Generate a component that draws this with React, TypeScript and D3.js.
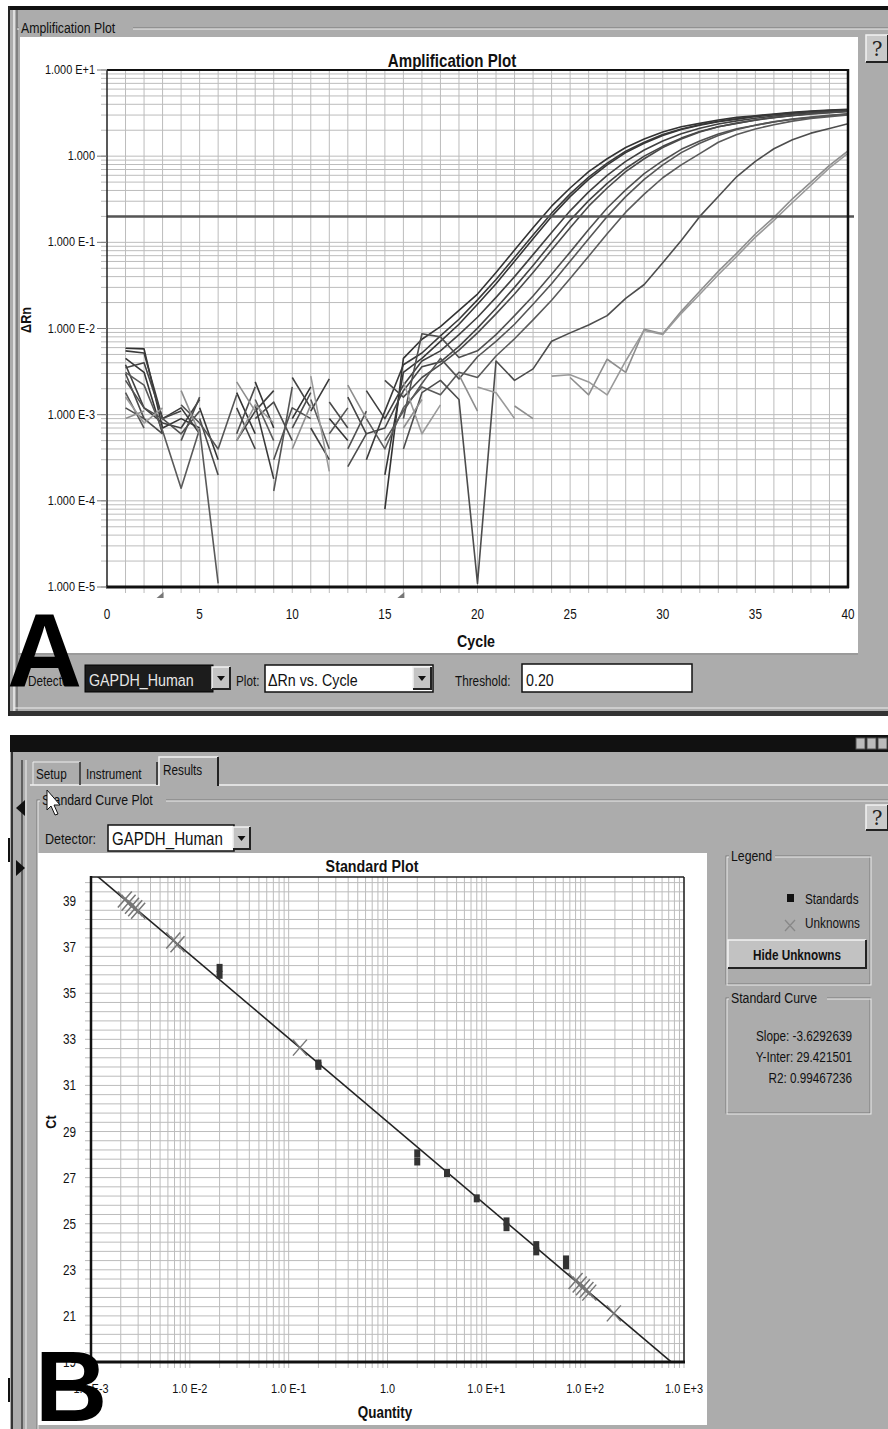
import React from "react";
import * as d3 from "d3";

// ---------- A: amplification plot, ΔRn per cycle (cycle 1..40), null = negative ΔRn (not drawn on log axis)
const cycles = d3.range(1, 41);

const curve1 = [0.0059, 0.0058, 0.0007, 0.0009, 0.0007, null, 0.0018, 0.0006, null, 0.0009, 0.0021, null, 0.0008, null, 0.00008,
  0.0045, 0.0075, 0.0105, 0.0162, 0.0251, 0.0447, 0.0813, 0.148, 0.263, 0.427, 0.661, 0.933, 1.26, 1.58, 1.91, 2.19, 2.40, 2.63, 2.82, 2.95, 3.09, 3.24, 3.35, 3.43, 3.51];
const curve2 = [0.0055, 0.0052, 0.0009, 0.0012, 0.0006, null, null, 0.0013, 0.00018, null, 0.0011, 0.0026, null, 0.0003, 0.0011,
  0.0038, 0.0052, 0.0082, 0.0128, 0.0215, 0.037, 0.067, 0.122, 0.218, 0.365, 0.57, 0.83, 1.14, 1.45, 1.78, 2.07, 2.32, 2.54, 2.72, 2.90, 3.04, 3.18, 3.30, 3.38, 3.45];
const curve3 = [0.0045, 0.0031, 0.0006, null, 0.0012, 0.0003, null, 0.0024, 0.0007, null, null, 0.0009, 0.0005, null, 0.0002,
  0.0031, 0.0045, 0.0071, 0.0112, 0.0191, 0.0331, 0.0603, 0.110, 0.200, 0.339, 0.537, 0.794, 1.10, 1.41, 1.74, 2.04, 2.29, 2.51, 2.69, 2.88, 3.02, 3.16, 3.28, 3.36, 3.42];
const curve4 = [0.0038, 0.0012, 0.0008, 0.0007, 0.0015, null, 0.0005, 0.0011, 0.0019, null, 0.0007, 0.0003, null, 0.0019, 0.0009,
  0.0022, 0.0042, 0.0055, 0.0085, 0.0135, 0.023, 0.040, 0.072, 0.130, 0.232, 0.385, 0.60, 0.87, 1.18, 1.50, 1.82, 2.11, 2.36, 2.57, 2.75, 2.92, 3.06, 3.19, 3.29, 3.37];
const curve5 = [0.0035, 0.004, 0.0009, 0.0011, null, null, 0.0012, 0.0004, null, 0.0027, 0.0012, null, 0.0016, 0.0006, 0.0007,
  0.0019, 0.0036, 0.0041, 0.0062, 0.0101, 0.0172, 0.030, 0.054, 0.099, 0.18, 0.305, 0.483, 0.72, 1.00, 1.30, 1.62, 1.93, 2.19, 2.42, 2.62, 2.80, 2.96, 3.10, 3.22, 3.31];
const curve6 = [0.003, 0.0009, 0.0006, null, 0.0009, 0.0002, null, 0.0009, 0.0014, 0.0005, null, 0.0014, 0.0007, null, 0.0025,
  0.0016, 0.0027, 0.0038, 0.0056, 0.0089, 0.0148, 0.0251, 0.0447, 0.0813, 0.148, 0.263, 0.427, 0.661, 0.933, 1.26, 1.58, 1.91, 2.19, 2.40, 2.63, 2.82, 2.95, 3.09, 3.20, 3.30];
const curve7 = [0.0025, 0.0012, 0.0009, 0.0006, 0.0011, null, 0.0008, null, 0.0003, 0.0012, 0.0009, null, 0.0004, 0.0011, null,
  0.0009, 0.0087, 0.0080, 0.0046, 0.0055, 0.0085, 0.0141, 0.0238, 0.0425, 0.077, 0.141, 0.25, 0.406, 0.628, 0.886, 1.20, 1.50, 1.81, 2.08, 2.28, 2.50, 2.68, 2.80, 2.94, 3.08];
const curve8 = [0.0018, 0.0007, null, 0.0013, 0.0008, 0.0004, 0.0017, null, 0.00013, 0.0021, null, 0.0006, 0.0012, null, 0.0005,
  0.0011, 0.0023, 0.0045, 0.0026, 0.0047, 0.00708, 0.0112, 0.0191, 0.0331, 0.0603, 0.110, 0.200, 0.339, 0.537, 0.794, 1.10, 1.41, 1.74, 2.04, 2.29, 2.51, 2.69, 2.85, 2.98, 3.10];
const curve9 = [0.0031, 0.0022, 0.00065, 0.00014, 0.00068, 0.000011, null, 0.0015, 0.0005, null, 0.0015, 0.0004, null, 0.0009, 0.0004,
  0.0012, 0.0021, 0.0017, 0.0031, 0.0027, 0.0048, 0.0076, 0.0126, 0.0213, 0.038, 0.069, 0.126, 0.224, 0.363, 0.562, 0.793, 1.07, 1.45, 1.78, 2.07, 2.32, 2.55, 2.74, 2.88, 3.0];
const curve10 = [0.0012, 0.0009, null, 0.0005, 0.0016, null, 0.0006, 0.0021, null, 0.0007, 0.0018, null, 0.00025, 0.0006, null,
  0.0004, 0.0018, 0.0025, 0.0015, 0.000011, 0.0042, 0.0025, 0.0034, 0.0071, 0.0089, 0.011, 0.0141, 0.0224, 0.0324, 0.058, 0.105, 0.20, 0.34, 0.58, 0.87, 1.22, 1.55, 1.85, 2.10, 2.38];
const curve11 = [0.0009, 0.0011, null, 0.0019, 0.0006, null, 0.0024, 0.0011, null, 0.0004, 0.0013, null, 0.0022, 0.0009, null,
  0.0007, 0.0015, null, 0.0029, 0.0011, null, 0.00126, 0.0009, null, 0.0027, 0.0017, 0.0044, 0.0031, 0.0098, 0.0087, 0.0158, 0.027, 0.046, 0.075, 0.125, 0.195, 0.32, 0.5, 0.78, 1.15];
const curve12 = [0.0016, 0.0008, 0.0012, null, 0.0009, null, 0.0005, 0.0013, 0.0008, null, 0.0028, 0.00022, null, 0.0013, null,
  0.0024, 0.0006, 0.0013, null, 0.0021, 0.0018, 0.0009, null, 0.0028, 0.0029, 0.0024, 0.0017, 0.0042, 0.0095, 0.0085, 0.015, 0.025, 0.042, 0.069, 0.115, 0.18, 0.29, 0.46, 0.73, 1.08];

const ampCurves = [curve1, curve2, curve3, curve4, curve5, curve6, curve7, curve8, curve9, curve10, curve11, curve12];
const curveColors = ["#333", "#3a3a3a", "#363636", "#404040", "#444", "#4a4a4a", "#505050", "#555", "#5a5a5a", "#4d4d4d", "#8e8e8e", "#9a9a9a"];

const threshold = 0.2;
const baselineMarks = [3, 16];
const ampXTicks = [0, 5, 10, 15, 20, 25, 30, 35, 40];
const ampYTicks = [10, 1, 0.1, 0.01, 0.001, 0.0001, 0.00001];
const ampYLabels = ["1.000 E+1", "1.000", "1.000 E-1", "1.000 E-2", "1.000 E-3", "1.000 E-4", "1.000 E-5"];

// ---------- B: standard curve
const stdQuantity = [0.02, 0.02, 0.2, 0.2, 2, 2, 4, 8, 16, 16, 32, 32, 64, 64];
const stdCt = [36.1, 35.8, 31.95, 31.85, 28.05, 27.7, 27.2, 26.1, 25.1, 24.85, 24.07, 23.8, 23.45, 23.2];
const unkQuantity = [0.0022, 0.0024, 0.0026, 0.0028, 0.003, 0.0068, 0.0075, 0.13, 80, 88, 95, 103, 110, 195];
const unkCt = [39.07, 38.93, 38.8, 38.69, 38.58, 37.29, 37.13, 32.64, 22.51, 22.36, 22.24, 22.12, 22.01, 21.11];
const slope = -3.6292639;
const yIntercept = 29.421501;
const r2 = 0.99467236;
const stdYTicks = [19, 21, 23, 25, 27, 29, 31, 33, 35, 37, 39];
const stdXTicks = [1e-3, 1e-2, 1e-1, 1, 10, 100, 1000];
const stdXLabels = ["1.0 E-3", "1.0 E-2", "1.0 E-1", "1.0", "1.0 E+1", "1.0 E+2", "1.0 E+3"];

const FONT = "'Liberation Sans', Arial, sans-serif";
const GRAY = "#acacac";
const GRID = "#bcbcbc";

// condensed text, like the narrow Windows UI font of the screenshot
const T = ({ x, y, size = 13, anchor = "start", bold = false, fill = "#111", sx = 0.84, rotate = 0, children }) => (
  <text
    transform={`translate(${x},${y})${rotate ? ` rotate(${rotate})` : ""} scale(${sx},1)`}
    fontSize={size}
    textAnchor={anchor}
    fontWeight={bold ? "bold" : "normal"}
    fontFamily={FONT}
    fill={fill}
  >
    {children}
  </text>
);

const GroupBox = ({ x, y, w, h, label, lw }) => (
  <g>
    <rect x={x} y={y} width={w} height={h} fill="none" stroke="#7a7a7a" />
    <rect x={x + 1} y={y + 1} width={w} height={h} fill="none" stroke="#ececec" />
    <rect x={x + 3} y={y - 8} width={lw} height={16} fill={GRAY} />
    <T x={x + 5} y={y + 5} size={15} sx={0.82}>{label}</T>
  </g>
);

const Bevel = ({ x, y, w, h, fill = "#c4c4c4" }) => (
  <g>
    <rect x={x} y={y} width={w} height={h} fill={fill} />
    <path d={`M${x},${y + h}V${y}H${x + w}`} fill="none" stroke="#f2f2f2" strokeWidth={1.5} />
    <path d={`M${x},${y + h}H${x + w}V${y}`} fill="none" stroke="#222" strokeWidth={2} />
  </g>
);

const DropArrow = ({ x, y, w, h }) => (
  <g>
    <Bevel x={x} y={y} w={w} h={h} />
    <path d={`M${x + w / 2 - 4},${y + h / 2 - 2}h8l-4,5z`} fill="#111" />
  </g>
);

const AmplificationPanel = () => {
  const xA = d3.scaleLinear().domain([0, 40]).range([107, 848]);
  const yA = d3.scaleLog().domain([1e-5, 10]).range([587, 70]);
  const line = d3.line<number | null>()
    .defined(v => v != null && v > 0)
    .x((_, i) => xA(cycles[i]))
    .y(v => yA(v as number));
  const minor = yA.ticks();
  return (
    <g>
      <rect x={10} y={9} width={878} height={707} fill={GRAY} />
      <rect x={10} y={6} width={878} height={4} fill="#111" />
      <line x1={9} y1={6} x2={9} y2={716} stroke="#222" strokeWidth={2} />
      <line x1={14} y1={10} x2={14} y2={712} stroke="#f0f0f0" strokeWidth={1.5} />
      <line x1={17} y1={10} x2={17} y2={712} stroke="#555" strokeWidth={1} />
      <line x1={17} y1={28} x2={888} y2={28} stroke="#777" />
      <line x1={17} y1={29} x2={888} y2={29} stroke="#eee" />
      <rect x={19} y={20} width={114} height={16} fill={GRAY} />
      <T x={21} y={33} size={15} sx={0.82}>Amplification Plot</T>
      <rect x={20} y={37} width={838} height={616} fill="#fff" />
      <Bevel x={866} y={35} w={22} h={27} fill="#c9c9c9" />
      <text x={877} y={56} fontSize={20} fontFamily="'DejaVu Serif', serif" textAnchor="middle" fill="#222">?</text>

      <T x={452} y={67} size={18} bold anchor="middle">Amplification Plot</T>

      {minor.map((v, i) => (
        <line key={"h" + i} x1={101} x2={848} y1={yA(v)} y2={yA(v)} stroke={GRID} strokeWidth={1} />
      ))}
      {d3.range(1, 40).map(c => (
        <line key={"v" + c} x1={xA(c)} x2={xA(c)} y1={70} y2={593} stroke={GRID} strokeWidth={1} />
      ))}

      <clipPath id="clipA"><rect x={107} y={70} width={741} height={518} /></clipPath>
      <g clipPath="url(#clipA)">
        {ampCurves.map((c, i) => (
          <path key={i} d={line(c) || ""} fill="none" stroke={curveColors[i]} strokeWidth={1.6} strokeLinejoin="round" />
        ))}
      </g>
      <line x1={107} x2={854} y1={yA(threshold)} y2={yA(threshold)} stroke="#555" strokeWidth={2.5} />

      <line x1={107} x2={848} y1={70} y2={70} stroke="#111" strokeWidth={2} />
      <line x1={848} x2={848} y1={69} y2={588} stroke="#111" strokeWidth={2.5} />
      <line x1={107} x2={107} y1={70} y2={588} stroke="#222" strokeWidth={1.5} />
      <line x1={106} x2={849} y1={587} y2={587} stroke="#111" strokeWidth={3} />

      {ampYTicks.map((v, i) => (
        <g key={"yl" + i}>
          <line x1={97} x2={107} y1={yA(v)} y2={yA(v)} stroke="#777" />
          <T x={95} y={yA(v) + 4} size={13} anchor="end">{ampYLabels[i]}</T>
        </g>
      ))}
      {ampXTicks.map(t => (
        <T key={"xl" + t} x={xA(t)} y={619} size={14} anchor="middle">{t}</T>
      ))}
      {baselineMarks.map(c => (
        <path key={"bm" + c} d={`M${xA(c) - 6},${598}L${xA(c) + 1},${592}L${xA(c) + 1},${598}Z`} fill="#777" />
      ))}
      <T x={476} y={647} size={17} bold anchor="middle">Cycle</T>
      <T x={31} y={320} size={15} bold anchor="middle" rotate={-90}>ΔRn</T>

      {/* controls */}
      <line x1={17} y1={654} x2={858} y2={654} stroke="#888" />
      <T x={28} y={686} size={14}>Detector:</T>
      <rect x={85} y={665} width={128} height={27} fill="#1c1c1c" stroke="#000" />
      <T x={89} y={686} size={17} fill="#e6e6e6">GAPDH_Human</T>
      <DropArrow x={212} y={667} w={18} h={22} />
      <T x={236} y={686} size={14}>Plot:</T>
      <rect x={265} y={665} width={168} height={27} fill="#fff" stroke="#111" strokeWidth={1.5} />
      <T x={268} y={686} size={17}>ΔRn vs. Cycle</T>
      <DropArrow x={413} y={667} w={18} h={22} />
      <T x={455} y={686} size={14}>Threshold:</T>
      <rect x={522} y={664} width={170} height={28} fill="#fff" stroke="#111" strokeWidth={1.5} />
      <T x={526} y={686} size={17}>0.20</T>
      <line x1={14} y1={708} x2={888} y2={708} stroke="#eee" />
      <rect x={10} y={711} width={878} height={5} fill="#333" />

      <text x={7} y={686} fontSize={104} fontWeight="bold" fontFamily={FONT} fill="#000">A</text>
    </g>
  );
};

const StandardPanel = () => {
  const xB = d3.scaleLog().domain([1e-3, 1e3]).range([91, 684]);
  const yB = d3.scaleLinear().domain([19, 40]).range([1362, 878]);
  const vGrid = xB.ticks();
  const hGrid = d3.range(0, 53).map(k => 19 + k * 0.4);
  const ends = [1e-3, 1e3];
  const fit = d3.line<number>().x(q => xB(q)).y(q => yB(yIntercept + slope * Math.log10(q)));
  return (
    <g>
      <rect x={10} y={735} width={878} height={17} fill="#111" />
      {[856, 867, 878].map(x => (
        <rect key={x} x={x} y={738} width={9} height={11} fill="#bbb" stroke="#555" />
      ))}
      <rect x={10} y={752} width={878} height={677} fill={GRAY} />
      <line x1={12} y1={752} x2={12} y2={1429} stroke="#333" strokeWidth={2} />
      <line x1={22} y1={760} x2={22} y2={1429} stroke="#444" strokeWidth={1.5} />
      <line x1={26} y1={760} x2={26} y2={1429} stroke="#eee" />
      <line x1={9} y1={838} x2={9} y2={862} stroke="#111" strokeWidth={2} />
      <line x1={9} y1={1378} x2={9} y2={1402} stroke="#111" strokeWidth={2} />
      <path d="M16,808l9,-8v16z" fill="#111" />
      <path d="M25,868l-9,-8v16z" fill="#111" />

      {/* tabs */}
      <line x1={30} y1={785} x2={888} y2={785} stroke="#f2f2f2" strokeWidth={1.5} />
      <path d="M33,785V762H80V785" fill="none" stroke="#eee" />
      <line x1={80} y1={762} x2={80} y2={785} stroke="#222" strokeWidth={1.5} />
      <T x={36} y={779} size={14}>Setup</T>
      <line x1={157} y1={762} x2={157} y2={785} stroke="#222" strokeWidth={1.5} />
      <T x={86} y={779} size={14}>Instrument</T>
      <rect x={159} y={756} width={59} height={31} fill={GRAY} />
      <path d="M159,786V757H218" fill="none" stroke="#f2f2f2" strokeWidth={1.5} />
      <line x1={218} y1={757} x2={218} y2={786} stroke="#222" strokeWidth={2} />
      <T x={163} y={775} size={14}>Results</T>

      <GroupBox x={37} y={800} w={860} h={640} label="Standard Curve Plot" lw={126} />
      <Bevel x={866} y={805} w={22} h={25} fill="#c9c9c9" />
      <text x={877} y={825} fontSize={20} fontFamily="'DejaVu Serif', serif" textAnchor="middle" fill="#222">?</text>

      <T x={45} y={844} size={15}>Detector:</T>
      <rect x={108} y={825} width={126} height={26} fill="#fff" stroke="#111" strokeWidth={1.5} />
      <T x={112} y={845} size={18}>GAPDH_Human</T>
      <DropArrow x={233} y={827} w={17} h={22} />

      <rect x={38} y={853} width={669} height={572} fill="#fff" />
      <T x={372} y={872} size={17} bold anchor="middle">Standard Plot</T>

      {hGrid.map((v, i) => (
        <line key={"h" + i} x1={85} x2={684} y1={yB(v)} y2={yB(v)} stroke={GRID} />
      ))}
      {vGrid.map((q, i) => (
        <line key={"v" + i} x1={xB(q)} x2={xB(q)} y1={877} y2={1368} stroke={GRID} />
      ))}

      <clipPath id="clipB"><rect x={91} y={877} width={593} height={485} /></clipPath>
      <g clipPath="url(#clipB)">
        <path d={fit(ends) || ""} fill="none" stroke="#222" strokeWidth={1.6} />
      </g>

      {stdQuantity.map((q, i) => (
        <rect key={"s" + i} x={xB(q) - 3} y={yB(stdCt[i]) - 4} width={6} height={8} fill="#333" />
      ))}
      {unkQuantity.map((q, i) => (
        <path key={"u" + i} transform={`translate(${xB(q)},${yB(unkCt[i])})`} d="M-7,-8L7,8M-7,8L7,-8" stroke="#777" strokeWidth={1.5} fill="none" />
      ))}

      <line x1={91} x2={684} y1={877} y2={877} stroke="#222" strokeWidth={1.5} />
      <line x1={684} x2={684} y1={877} y2={1363} stroke="#222" strokeWidth={1.5} />
      <line x1={91} x2={91} y1={876} y2={1363} stroke="#111" strokeWidth={2.5} />
      <line x1={90} x2={685} y1={1362} y2={1362} stroke="#111" strokeWidth={3} />

      {stdYTicks.map(t => (
        <T key={"yt" + t} x={76} y={yB(t) + 5} size={14} anchor="end">{t}</T>
      ))}
      {stdXTicks.map((q, i) => (
        <T key={"xt" + i} x={xB(q)} y={1393} size={13} anchor="middle">{stdXLabels[i]}</T>
      ))}
      <T x={385} y={1418} size={16} bold anchor="middle">Quantity</T>
      <T x={56} y={1122} size={15} bold anchor="middle" rotate={-90}>Ct</T>

      {/* legend */}
      <GroupBox x={726} y={856} w={144} h={128} label="Legend" lw={46} />
      <rect x={787} y={894} width={7} height={8} fill="#111" />
      <T x={805} y={904} size={14}>Standards</T>
      <path d="M785,920L795,931M785,931L795,920" stroke="#888" strokeWidth={1.3} />
      <T x={805} y={928} size={14}>Unknowns</T>
      <Bevel x={728} y={940} w={138} h={28} fill="#c2c2c2" />
      <T x={797} y={960} size={14} bold anchor="middle">Hide Unknowns</T>

      <GroupBox x={726} y={998} w={144} h={115} label="Standard Curve" lw={98} />
      <T x={852} y={1041} size={14} anchor="end">{`Slope: ${slope}`}</T>
      <T x={852} y={1062} size={14} anchor="end">{`Y-Inter: ${yIntercept}`}</T>
      <T x={852} y={1083} size={14} anchor="end">{`R2: ${r2}`}</T>

      {/* cursor */}
      <path d="M47,790v20l4,-4l4,9l3,-1l-4,-9h6z" fill="#fff" stroke="#111" strokeWidth={1} />

      <text x={35} y={1421} fontSize={100} fontWeight="bold" fontFamily={FONT} fill="#000">B</text>
    </g>
  );
};

const App = () => (
  <svg width={888} height={1429} style={{ position: "absolute", left: 0, top: 0, background: "#fff" }}>
    <rect x={0} y={0} width={888} height={1429} fill="#fff" />
    <AmplificationPanel />
    <StandardPanel />
  </svg>
);

export default App;
